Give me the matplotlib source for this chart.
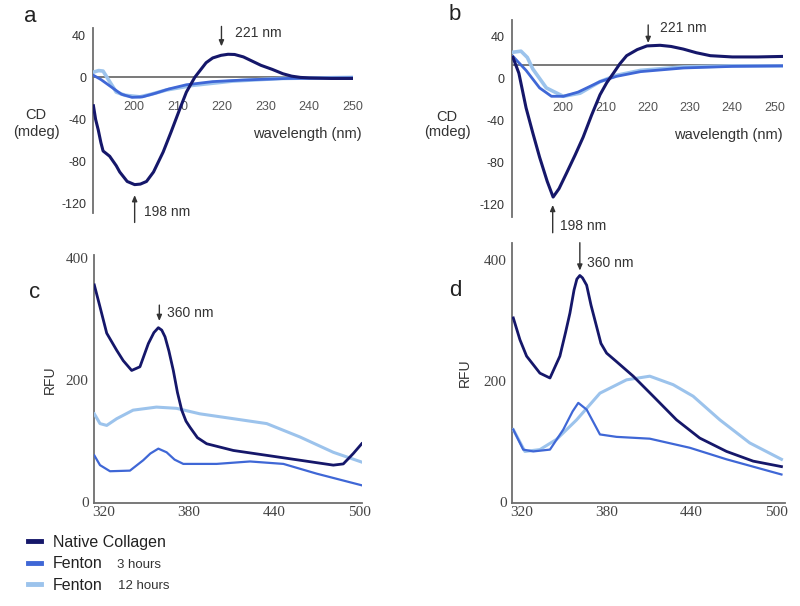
import matplotlib
matplotlib.use("Agg")
import matplotlib.pyplot as plt
from matplotlib.lines import Line2D

plt.rcParams["axes.unicode_minus"] = False

# ---------------- data ----------------
# Panel a (CD, native collagen vs Fenton)
a_nat_x = [190.8, 191.3, 191.9, 192.5, 193.0, 194.5, 196.0, 196.8, 198.5, 200.2, 201.5, 202.9, 204.5, 206.7, 208.5, 210.5, 212.0, 213.9,
           216.5, 218.0, 219.9, 221.5, 223.0, 225.0, 227.0, 229.0, 231.6, 234.0, 236.0, 238.0, 240.0, 245.0, 250.0]
a_nat_y = [-27, -40, -50, -62, -70, -75, -84, -90, -99, -102, -101.5, -99, -90, -71, -52, -30, -14, 0,
           14, 18.5, 21, 22, 21.8, 19.5, 15.5, 11.5, 7.6, 3.5, 1.2, 0, -0.5, -1, -1]
a_f3_x = [190.8, 192.5, 194.5, 196.0, 197.2, 199.6, 202.0, 205.0, 208.0, 212.0, 218.0, 225.0, 235.0, 250.0]
a_f3_y = [2, -2, -8, -12.5, -16, -19, -18.5, -15, -11, -7, -4, -2.5, -1, -0.5]
a_f12_x = [190.8, 192.0, 193.0, 194.5, 196.0, 198.0, 201.4, 204.0, 207.4, 213.4, 222.5, 233.5, 250.0]
a_f12_y = [5, 6.5, 6, -4, -14, -17, -18.5, -16, -12, -7.6, -3.5, -1, 0]

# Panel b
b_nat_x = [188.1, 189.5, 191.2, 192.8, 194.4, 196.2, 197.6, 199.0, 200.8, 202.8, 204.7, 206.7, 208.7, 210.3, 211.8, 213.4, 215.0, 217.5,
           219.8, 222.9, 225.5, 228.4, 231.5, 234.8, 240.0, 246.0, 252.0]
b_nat_y = [20, 5, -28, -52, -75, -98, -113, -105, -90, -73, -56, -35, -15.5, -4, 4.6, 14, 21.7, 27.5,
           31, 31.6, 30.5, 28, 24.5, 21.7, 20.5, 20.5, 21]
b_f3_x = [188.1, 191.2, 194.4, 197.2, 200.0, 203.5, 208.7, 212.6, 218.3, 228.5, 240.0, 252.0]
b_f3_y = [21, 7.7, -9, -17, -17, -13, -3, 2, 6.5, 10, 11.5, 12]
b_f12_x = [188.1, 190.0, 191.5, 192.8, 196.0, 200.0, 204.0, 208.7, 212.6, 218.3, 228.5, 240.0, 252.0]
b_f12_y = [25, 26, 20, 9, -9, -17, -14, -3, 3, 7.7, 11, 12, 12]

# Panel c (fluorescence)
c_nat_x = [313.7, 317.7, 322.4, 329.4, 334.0, 339.9, 345.7, 351.6, 355.5, 358.6, 361.0, 363.3, 366.0, 369.1, 372.0, 375.0, 378.0, 380.8,
           386.0, 392.5, 411.2, 434.6, 458.0, 481.3, 488.3, 495.3, 501.2]
c_nat_y = [356, 320, 277, 249, 232, 216, 222, 260, 278, 286, 282, 271, 248, 216, 180, 151, 133, 123,
           106, 96, 85, 77, 69, 61, 63, 80, 96]
c_f3_x = [313.7, 317.7, 324.7, 338.7, 348.0, 353.0, 358.6, 364.4, 370.0, 376.1, 399.5, 422.9, 446.3, 469.7, 501.2]
c_f3_y = [77, 61, 51, 52, 69, 80, 88, 82, 70, 63, 63, 67, 63, 47, 28]
c_f12_x = [313.7, 317.7, 322.4, 329.4, 340.9, 357.3, 371.3, 387.7, 411.2, 434.6, 458.0, 481.3, 501.2]
c_f12_y = [145, 129, 126, 137, 151, 156, 154, 145, 137, 129, 107, 82, 66]

# Panel d
d_nat_x = [314.1, 318.8, 323.5, 332.9, 340.0, 347.0, 351.0, 354.1, 357.0, 359.0, 361.1, 363.0, 365.9, 369.0, 372.9, 376.0, 380.0, 387.0,
           398.8, 412.9, 429.4, 445.8, 464.7, 483.5, 503.5]
d_nat_y = [304, 268, 241, 213, 205, 241, 280, 312, 350, 368, 374, 370, 358, 325, 290, 262, 246, 232,
           208, 175, 136, 106, 84, 68, 59]
d_f3_x = [314.1, 321.1, 328.2, 340.0, 349.4, 356.0, 360.0, 365.9, 375.3, 387.0, 410.5, 438.8, 464.7, 503.5]
d_f3_y = [120, 87, 84, 87, 120, 150, 164, 153, 112, 108, 105, 90, 71, 46]
d_f12_x = [314.1, 322.3, 332.9, 344.7, 358.8, 375.3, 394.1, 410.5, 427.0, 441.1, 460.0, 481.1, 503.5]
d_f12_y = [120, 84, 87, 104, 136, 180, 202, 208, 194, 175, 136, 98, 71]

cd_yticks = [40, 0, -40, -80, -120]
cd_xticks = [200, 210, 220, 230, 240, 250]
fl_yticks = [0, 200, 400]
fl_xticks = [320, 380, 440, 500]
legend_labels = ["Native Collagen", "Fenton", "Fenton"]
legend_sub = ["3 hours", "12 hours"]

# ---------------- style ----------------
C_NAT = "#15176a"
C_F3 = "#3f67d6"
C_F12 = "#9cc3ec"
AX_C = "#6e6e6e"
TXT_C = "#333333"
SANS = ["Liberation Sans", "DejaVu Sans"]
SERIF = ["Liberation Serif", "DejaVu Serif"]

W, H = 800, 606
fig = plt.figure(figsize=(W / 100, H / 100), dpi=100)


def rect(x0, y0, x1, y1):
    return [x0 / W, 1 - y1 / H, (x1 - x0) / W, (y1 - y0) / H]


def cd_axes(r, xlim, ylim, base):
    ax = fig.add_axes(r)
    ax.set_xlim(*xlim)
    ax.set_ylim(*ylim)
    for s in ["top", "right"]:
        ax.spines[s].set_visible(False)
    ax.spines["left"].set_color(AX_C)
    ax.spines["left"].set_linewidth(1.3)
    ax.spines["bottom"].set_position(("data", 0))
    ax.spines["bottom"].set_visible(False)
    ax.axhline(base, color=AX_C, lw=1.3, zorder=1)
    ax.set_yticks(cd_yticks)
    ax.set_xticks(cd_xticks)
    ax.tick_params(axis="y", length=0, pad=5, labelsize=9, labelcolor=TXT_C)
    ax.tick_params(axis="x", length=0, pad=17, labelsize=9, labelcolor="#555555")
    for lab in ax.get_xticklabels() + ax.get_yticklabels():
        lab.set_family(SANS)
    ax.patch.set_alpha(0)
    return ax


def fl_axes(r, xlim, ylim):
    ax = fig.add_axes(r)
    ax.set_xlim(*xlim)
    ax.set_ylim(*ylim)
    for s in ["top", "right"]:
        ax.spines[s].set_visible(False)
    for s in ["left", "bottom"]:
        ax.spines[s].set_color(AX_C)
        ax.spines[s].set_linewidth(1.3)
    ax.set_yticks(fl_yticks)
    ax.set_xticks(fl_xticks)
    ax.tick_params(length=0, labelsize=11, labelcolor="#444444")
    ax.tick_params(axis="y", pad=4)
    ax.tick_params(axis="x", pad=2)
    for lab in ax.get_xticklabels() + ax.get_yticklabels():
        lab.set_family(SERIF)
    ax.patch.set_alpha(0)
    return ax


arrow_kw = dict(arrowstyle="-|>,head_length=0.35,head_width=0.15", color="#333333", lw=1.0,
                shrinkA=0, shrinkB=0)


def arrow(ax, x, y0, y1, text, tx, ty):
    ax.annotate("", xy=(x, y1), xytext=(x, y0), arrowprops=arrow_kw, annotation_clip=False)
    ax.text(tx, ty, text, ha="left", va="center", fontsize=10, color=TXT_C, family=SANS,
            clip_on=False)


# ---- panel a ----
axa = cd_axes(rect(93, 28, 353, 213), (190.7, 249.8), (-129, 47), 0)
axa.plot(a_f12_x, a_f12_y, color=C_F12, lw=2.6, zorder=3)
axa.plot(a_f3_x, a_f3_y, color=C_F3, lw=2.0, zorder=4)
axa.plot(a_nat_x, a_nat_y, color=C_NAT, lw=2.2, zorder=5)
arrow(axa, 220.0, 48.5, 29.5, "221 nm", 223.0, 42.4)
arrow(axa, 200.2, -138, -112, "198 nm", 202.3, -128)
fig.text(36 / W, 1 - 115 / H, "CD", ha="center", va="center", fontsize=10.5, color=TXT_C, family=SANS)
fig.text(36 / W, 1 - 132 / H, "(mdeg)", ha="center", va="center", fontsize=10.5, color=TXT_C, family=SANS)
fig.text(362 / W, 1 - 134 / H, "wavelength (nm)", ha="right", va="center", fontsize=10.5, color=TXT_C, family=SANS)
fig.text(30 / W, 1 - 17 / H, "a", ha="center", va="center", fontsize=16, color="#222222", family=SANS)

# ---- panel b ----
axb = cd_axes(rect(511.7, 20, 783, 217), (187.8, 252.0), (-132, 55.7), 13)
axb.plot(b_f12_x, b_f12_y, color=C_F12, lw=2.6, zorder=3)
axb.plot(b_f3_x, b_f3_y, color=C_F3, lw=2.0, zorder=4)
axb.plot(b_nat_x, b_nat_y, color=C_NAT, lw=2.2, zorder=5)
arrow(axb, 220.1, 51, 33.8, "221 nm", 222.9, 48)
arrow(axb, 197.5, -147, -120.5, "198 nm", 199.2, -141)
fig.text(447 / W, 1 - 117 / H, "CD", ha="center", va="center", fontsize=10.5, color=TXT_C, family=SANS)
fig.text(447 / W, 1 - 132 / H, "(mdeg)", ha="center", va="center", fontsize=10.5, color=TXT_C, family=SANS)
fig.text(783 / W, 1 - 135 / H, "wavelength (nm)", ha="right", va="center", fontsize=10.5, color=TXT_C, family=SANS)
fig.text(455 / W, 1 - 15 / H, "b", ha="center", va="center", fontsize=16, color="#222222", family=SANS)

# ---- panel c ----
axc = fl_axes(rect(94.3, 255, 361.7, 503), (313.7, 501.2), (-1, 405))
axc.plot(c_f12_x, c_f12_y, color=C_F12, lw=2.2, zorder=3)
axc.plot(c_f3_x, c_f3_y, color=C_F3, lw=1.6, zorder=4)
axc.plot(c_nat_x, c_nat_y, color=C_NAT, lw=2.0, zorder=5)
arrow(axc, 359.3, 323, 297, "360 nm", 364.5, 310)
fig.text(50 / W, 1 - 380 / H, "RFU", ha="center", va="center", rotation=90, fontsize=10, color=TXT_C, family=SANS)
fig.text(35 / W, 1 - 292 / H, "c", ha="center", va="center", fontsize=16, color="#222222", family=SANS)

# ---- panel d ----
axd = fl_axes(rect(512.3, 243.3, 785, 503), (313.4, 506), (-1, 427))
axd.plot(d_f12_x, d_f12_y, color=C_F12, lw=2.2, zorder=3)
axd.plot(d_f3_x, d_f3_y, color=C_F3, lw=1.6, zorder=4)
axd.plot(d_nat_x, d_nat_y, color=C_NAT, lw=2.0, zorder=5)
arrow(axd, 361.1, 428, 382, "360 nm", 365.9, 395)
fig.text(465 / W, 1 - 373 / H, "RFU", ha="center", va="center", rotation=90, fontsize=10, color=TXT_C, family=SANS)
fig.text(455 / W, 1 - 290 / H, "d", ha="center", va="center", fontsize=16, color="#222222", family=SANS)

# ---- legend ----
handles = [Line2D([], [], color=C_NAT, lw=3.5),
           Line2D([], [], color=C_F3, lw=3.5),
           Line2D([], [], color=C_F12, lw=3.5)]
leg = fig.legend(handles, legend_labels, loc="upper left", bbox_to_anchor=(28 / W, 1 - 535 / H),
                 frameon=False, handlelength=0.8, handletextpad=0.75, labelspacing=0.4,
                 borderpad=0, borderaxespad=0, prop={"family": SANS, "size": 11.5})
for t in leg.get_texts():
    t.set_color("#222222")
fig.text(117 / W, 1 - 565 / H, legend_sub[0], ha="left", va="center", fontsize=9.5, color="#333333", family=SANS)
fig.text(118 / W, 1 - 586 / H, legend_sub[1], ha="left", va="center", fontsize=9.5, color="#333333", family=SANS)

fig.savefig("out.png", dpi=100)
